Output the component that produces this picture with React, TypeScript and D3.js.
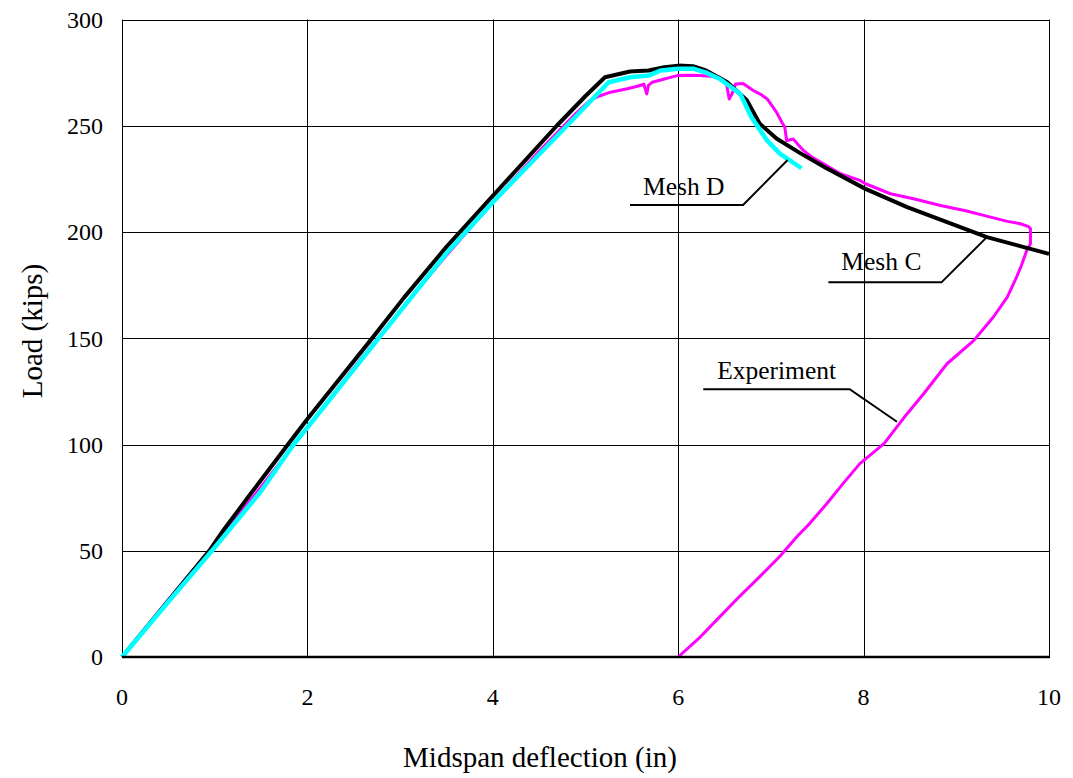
import React from "react";
import * as d3 from "d3";

// Load–deflection curves: [midspan deflection (in), load (kips)]
const meshC: [number, number][] = [
  [0, 0], [0.5, 26.5], [0.95, 50.5], [1.1, 60], [1.4, 77.5], [1.79, 100], [2.0, 112],
  [2.68, 149], [3.04, 169], [3.5, 193], [4.0, 217], [4.69, 250], [5.0, 264],
  [5.21, 272.8], [5.48, 275.5], [5.68, 276], [5.85, 277.5], [6.0, 278.3],
  [6.16, 278], [6.3, 276], [6.53, 270.5], [6.74, 262], [6.88, 251], [7.06, 244],
  [7.32, 237], [7.6, 230], [8.02, 220.3], [8.47, 211.7], [9.33, 197.6], [10, 189.7],
];

const meshD: [number, number][] = [
  [0, 0], [0.5, 26], [1.0, 51.5], [1.5, 78], [1.85, 100], [2.0, 108], [2.75, 149],
  [3.5, 190], [4.0, 214], [4.8, 250], [5.25, 270.5], [5.48, 272.8], [5.68, 273.6],
  [5.81, 276], [6.0, 276.8], [6.17, 276.8], [6.3, 275], [6.45, 272], [6.67, 265],
  [6.79, 254], [6.96, 243], [7.1, 236.8], [7.33, 230],
];

const experiment: [number, number][] = [
  [0, 0], [0.5, 27], [1.0, 53], [1.5, 80], [2.0, 108], [2.5, 136], [3.0, 163],
  [3.5, 189], [4.0, 214], [4.5, 238], [4.9, 256], [5.05, 262], [5.15, 264],
  [5.27, 265.8], [5.45, 267.4], [5.55, 268.5], [5.63, 269.5], [5.66, 265],
  [5.68, 269], [5.72, 270.5], [5.85, 272], [5.99, 273.6], [6.1, 273.8],
  [6.24, 273.6], [6.38, 273.2], [6.45, 272.8], [6.52, 270], [6.55, 262.6],
  [6.58, 265], [6.62, 269.7], [6.7, 269.9], [6.81, 266.6], [6.9, 264.5],
  [6.96, 262.6], [7.06, 256.4], [7.12, 251.5], [7.15, 249.3], [7.17, 243],
  [7.24, 243.8], [7.35, 238.4], [7.45, 235], [7.6, 231.3], [7.75, 227.4],
  [7.96, 224.3], [8.02, 222.7], [8.29, 218], [8.55, 215.5], [8.83, 212.5],
  [9.1, 210], [9.37, 207], [9.55, 205], [9.69, 203.9], [9.78, 202.5],
  [9.8, 201.5], [9.8, 194.5], [9.76, 191.3], [9.7, 184], [9.65, 178.8],
  [9.55, 169.4], [9.4, 160], [9.19, 149], [8.9, 138], [8.65, 124], [8.47, 114.5],
  [8.22, 100.4], [7.96, 91], [7.78, 81.7], [7.6, 72], [7.42, 62.9], [7.28, 56.6],
  [7.1, 47.5], [6.88, 37.8], [6.65, 28], [6.45, 19], [6.24, 9.5], [6.0, 0],
];

const xTicks = [0, 2, 4, 6, 8, 10];
const yTicks = [0, 50, 100, 150, 200, 250, 300];

// Callouts: label, text origin, leader end, elbow, anchor on the curve
const callouts = [
  { label: "Mesh D", text: [5.62, 217.4], start: [5.48, 212.7], elbow: [6.7, 212.7], anchor: [7.18, 233.9] },
  { label: "Mesh C", text: [7.76, 182.1], start: [7.62, 176.3], elbow: [8.84, 176.3], anchor: [9.33, 197.6] },
  { label: "Experiment", text: [6.42, 130.8], start: [6.27, 126.0], elbow: [7.85, 126.0], anchor: [8.36, 110.7] },
];

const FONT = "Liberation Serif, Times New Roman, serif";

export default function App() {
  const width = 1073;
  const height = 778;
  const x = d3.scaleLinear().domain([0, 10]).range([122, 1049]);
  const y = d3.scaleLinear().domain([0, 300]).range([657, 19.5]);
  const line = d3
    .line<[number, number]>()
    .x((d) => x(d[0]))
    .y((d) => y(d[1]));

  const [x0, x1] = x.range();
  const [y0, y1] = y.range();

  return (
    <svg
      width={width}
      height={height}
      style={{ position: "absolute", left: 0, top: 0, background: "#fff", fontFamily: FONT }}
    >
      {/* grid */}
      {xTicks.slice(1, -1).map((t) => (
        <line key={"gx" + t} x1={Math.round(x(t)) + 0.5} x2={Math.round(x(t)) + 0.5} y1={y1} y2={y0} stroke="#000" strokeWidth={1} />
      ))}
      {yTicks.slice(1, -1).map((t) => (
        <line key={"gy" + t} x1={x0} x2={x1} y1={Math.round(y(t)) + 0.5} y2={Math.round(y(t)) + 0.5} stroke="#000" strokeWidth={1} />
      ))}
      {/* frame */}
      <line x1={x0 + 0.5} x2={x0 + 0.5} y1={y1} y2={y0} stroke="#000" strokeWidth={1} />
      <line x1={x1 + 0.5} x2={x1 + 0.5} y1={y1} y2={y0} stroke="#000" strokeWidth={1} />
      <line x1={x0} x2={x1 + 1} y1={Math.round(y1) + 0.5} y2={Math.round(y1) + 0.5} stroke="#000" strokeWidth={1} />

      {/* curves */}
      <path d={line(experiment) ?? ""} fill="none" stroke="#ff00ff" strokeWidth={3} strokeLinejoin="round" />
      <path d={line(meshC) ?? ""} fill="none" stroke="#000" strokeWidth={4} strokeLinejoin="round" />
      <path d={line(meshD) ?? ""} fill="none" stroke="#00ffff" strokeWidth={4.5} strokeLinejoin="round" />

      {/* x axis */}
      <line x1={x0} x2={x1 + 1} y1={y0} y2={y0} stroke="#000" strokeWidth={2.5} />

      {/* tick labels */}
      {yTicks.map((t) => (
        <text key={"ty" + t} x={x0 - 19} y={y(t)} dy="0.35em" textAnchor="end" fontSize={24} fontFamily={FONT}>
          {t}
        </text>
      ))}
      {xTicks.map((t) => (
        <text key={"tx" + t} x={x(t)} y={705} textAnchor="middle" fontSize={24} fontFamily={FONT}>
          {t}
        </text>
      ))}

      {/* axis titles */}
      <text x={540} y={767} textAnchor="middle" fontSize={29} fontFamily={FONT}>
        Midspan deflection (in)
      </text>
      <text transform="translate(42,331) rotate(-90)" textAnchor="middle" fontSize={29} fontFamily={FONT}>
        Load (kips)
      </text>

      {/* callouts */}
      {callouts.map((c) => (
        <g key={c.label}>
          <polyline
            points={[c.start, c.elbow, c.anchor].map((p) => `${x(p[0])},${y(p[1])}`).join(" ")}
            fill="none"
            stroke="#000"
            strokeWidth={2}
          />
          <text x={x(c.text[0])} y={y(c.text[1])} fontSize={25.5} fontFamily={FONT}>
            {c.label}
          </text>
        </g>
      ))}
    </svg>
  );
}
